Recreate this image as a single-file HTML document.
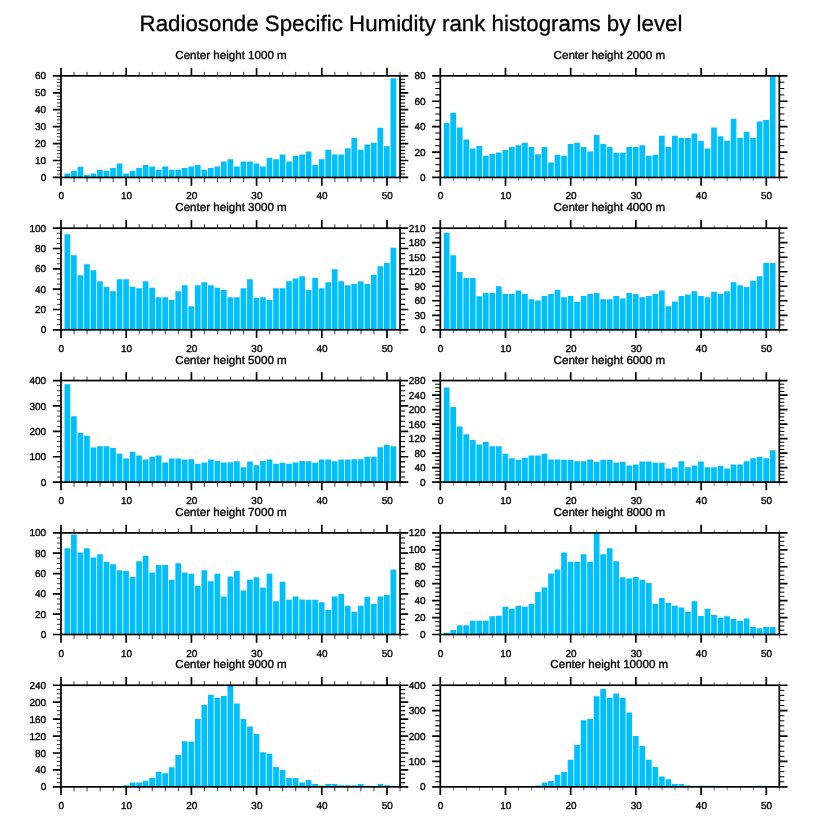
<!DOCTYPE html>
<html><head><meta charset="utf-8"><title>Radiosonde Specific Humidity rank histograms by level</title>
<style>html,body{margin:0;padding:0;background:#fff}svg{display:block;filter:blur(0.5px)}text{font-family:"Liberation Sans",sans-serif;fill:#000;stroke:#000;stroke-width:0.35px;text-rendering:geometricPrecision}</style></head><body>
<svg width="818" height="824" viewBox="0 0 818 824">
<rect width="818" height="824" fill="#fff"/>
<text x="411.0" y="31" font-size="22.3" text-anchor="middle" style="stroke-width:0.3px">Radiosonde Specific Humidity rank histograms by level</text>
<g>
<text x="231.02" y="59" font-size="11.6" text-anchor="middle">Center height 1000 m</text>
<path d="M64.52 177.45v-3.89h5.7v3.89zM71.04 177.45v-6.6h5.7v6.6zM77.56 177.45v-10.66h5.7v10.66zM84.08 177.45v-2.53h5.7v2.53zM90.6 177.45v-3.89h5.7v3.89zM97.12 177.45v-7.78h5.7v7.78zM103.64 177.45v-6.6h5.7v6.6zM110.16 177.45v-9.47h5.7v9.47zM116.68 177.45v-14.05h5.7v14.05zM123.2 177.45v-3.89h5.7v3.89zM129.72 177.45v-6.6h5.7v6.6zM136.24 177.45v-9.47h5.7v9.47zM142.76 177.45v-12.52h5.7v12.52zM149.28 177.45v-11h5.7v11zM155.8 177.45v-7.78h5.7v7.78zM162.32 177.45v-11h5.7v11zM168.84 177.45v-7.78h5.7v7.78zM175.36 177.45v-7.78h5.7v7.78zM181.88 177.45v-9.47h5.7v9.47zM188.4 177.45v-11h5.7v11zM194.92 177.45v-12.52h5.7v12.52zM201.44 177.45v-7.78h5.7v7.78zM207.96 177.45v-9.47h5.7v9.47zM214.48 177.45v-11h5.7v11zM221 177.45v-15.91h5.7v15.91zM227.52 177.45v-18.28h5.7v18.28zM234.04 177.45v-11h5.7v11zM240.56 177.45v-15.91h5.7v15.91zM247.08 177.45v-15.91h5.7v15.91zM253.6 177.45v-14.05h5.7v14.05zM260.12 177.45v-11h5.7v11zM266.64 177.45v-19.63h5.7v19.63zM273.16 177.45v-18.11h5.7v18.11zM279.68 177.45v-23.02h5.7v23.02zM286.2 177.45v-15.91h5.7v15.91zM292.72 177.45v-21.5h5.7v21.5zM299.24 177.45v-22.85h5.7v22.85zM305.76 177.45v-25.9h5.7v25.9zM312.28 177.45v-12.52h5.7v12.52zM318.8 177.45v-18.28h5.7v18.28zM325.32 177.45v-27.59h5.7v27.59zM331.84 177.45v-22.85h5.7v22.85zM338.36 177.45v-22.85h5.7v22.85zM344.88 177.45v-29.29h5.7v29.29zM351.4 177.45v-39.45h5.7v39.45zM357.92 177.45v-27.59h5.7v27.59zM364.44 177.45v-33.01h5.7v33.01zM370.96 177.45v-34.71h5.7v34.71zM377.48 177.45v-49.78h5.7v49.78zM384 177.45v-31.15h5.7v31.15zM390.52 177.45v-99.22h5.7v99.22z" fill="#00bfff"/>
<path d="M61 174.06h-4.1M61 170.68h-4.1M61 167.29h-4.1M61 163.9h-4.1M61 157.13h-4.1M61 153.74h-4.1M61 150.36h-4.1M61 146.97h-4.1M61 140.2h-4.1M61 136.81h-4.1M61 133.42h-4.1M61 130.04h-4.1M61 123.26h-4.1M61 119.88h-4.1M61 116.49h-4.1M61 113.1h-4.1M61 106.33h-4.1M61 102.94h-4.1M61 99.56h-4.1M61 96.17h-4.1M61 89.4h-4.1M61 86.01h-4.1M61 82.62h-4.1M61 79.24h-4.1" stroke="#000" stroke-width="0.75" fill="none"/>
<path d="M400.04 174.06h5M400.04 170.68h5M400.04 167.29h5M400.04 163.9h5M400.04 157.13h5M400.04 153.74h5M400.04 150.36h5M400.04 146.97h5M400.04 140.2h5M400.04 136.81h5M400.04 133.42h5M400.04 130.04h5M400.04 123.26h5M400.04 119.88h5M400.04 116.49h5M400.04 113.1h5M400.04 106.33h5M400.04 102.94h5M400.04 99.56h5M400.04 96.17h5M400.04 89.4h5M400.04 86.01h5M400.04 82.62h5M400.04 79.24h5" stroke="#000" stroke-width="1.1" fill="none"/>
<path d="M74.04 75.85v-4M74.04 177.45v4.5M87.08 75.85v-4M87.08 177.45v4.5M100.12 75.85v-4M100.12 177.45v4.5M113.16 75.85v-4M113.16 177.45v4.5M139.24 75.85v-4M139.24 177.45v4.5M152.28 75.85v-4M152.28 177.45v4.5M165.32 75.85v-4M165.32 177.45v4.5M178.36 75.85v-4M178.36 177.45v4.5M204.44 75.85v-4M204.44 177.45v4.5M217.48 75.85v-4M217.48 177.45v4.5M230.52 75.85v-4M230.52 177.45v4.5M243.56 75.85v-4M243.56 177.45v4.5M269.64 75.85v-4M269.64 177.45v4.5M282.68 75.85v-4M282.68 177.45v4.5M295.72 75.85v-4M295.72 177.45v4.5M308.76 75.85v-4M308.76 177.45v4.5M334.84 75.85v-4M334.84 177.45v4.5M347.88 75.85v-4M347.88 177.45v4.5M360.92 75.85v-4M360.92 177.45v4.5M373.96 75.85v-4M373.96 177.45v4.5M400.04 75.85v-4M400.04 177.45v4.5" stroke="#000" stroke-width="0.75" fill="none"/>
<path d="M61 75.85v-8.2M61 177.45v8.2M126.2 75.85v-8.2M126.2 177.45v8.2M191.4 75.85v-8.2M191.4 177.45v8.2M256.6 75.85v-8.2M256.6 177.45v8.2M321.8 75.85v-8.2M321.8 177.45v8.2M387 75.85v-8.2M387 177.45v8.2M61 177.45h-8.2M400.04 177.45h8.2M61 160.52h-8.2M400.04 160.52h8.2M61 143.58h-8.2M400.04 143.58h8.2M61 126.65h-8.2M400.04 126.65h8.2M61 109.72h-8.2M400.04 109.72h8.2M61 92.78h-8.2M400.04 92.78h8.2M61 75.85h-8.2M400.04 75.85h8.2" stroke="#000" stroke-width="1.7" fill="none"/>
<rect x="61" y="75.85" width="339.04" height="101.6" fill="none" stroke="#000" stroke-width="1.7"/>
<g font-size="10" text-anchor="end">
<text x="46.2" y="181">0</text>
<text x="46.2" y="164.07">10</text>
<text x="46.2" y="147.13">20</text>
<text x="46.2" y="130.2">30</text>
<text x="46.2" y="113.27">40</text>
<text x="46.2" y="96.33">50</text>
<text x="46.2" y="79.4">60</text>
</g>
<g font-size="10" text-anchor="middle">
<text x="61.3" y="199.45">0</text>
<text x="126.5" y="199.45">10</text>
<text x="191.7" y="199.45">20</text>
<text x="256.9" y="199.45">30</text>
<text x="322.1" y="199.45">40</text>
<text x="387.3" y="199.45">50</text>
</g>
</g>
<g>
<text x="609.32" y="59" font-size="11.6" text-anchor="middle">Center height 2000 m</text>
<path d="M443.82 177.45v-54.47h5.7v54.47zM450.34 177.45v-64.76h5.7v64.76zM456.86 177.45v-49.9h5.7v49.9zM463.38 177.45v-37.84h5.7v37.84zM469.9 177.45v-29.07h5.7v29.07zM476.42 177.45v-31.49h5.7v31.49zM482.94 177.45v-21.58h5.7v21.58zM489.46 177.45v-23.49h5.7v23.49zM495.98 177.45v-24.88h5.7v24.88zM502.5 177.45v-27.42h5.7v27.42zM509.02 177.45v-30.34h5.7v30.34zM515.54 177.45v-32.25h5.7v32.25zM522.06 177.45v-34.66h5.7v34.66zM528.58 177.45v-30.34h5.7v30.34zM535.1 177.45v-23.11h5.7v23.11zM541.62 177.45v-30.34h5.7v30.34zM548.14 177.45v-14.98h5.7v14.98zM554.66 177.45v-22.6h5.7v22.6zM561.18 177.45v-21.58h5.7v21.58zM567.7 177.45v-33.39h5.7v33.39zM574.22 177.45v-34.66h5.7v34.66zM580.74 177.45v-30.34h5.7v30.34zM587.26 177.45v-25.9h5.7v25.9zM593.78 177.45v-42.41h5.7v42.41zM600.3 177.45v-33.39h5.7v33.39zM606.82 177.45v-30.34h5.7v30.34zM613.34 177.45v-24.63h5.7v24.63zM619.86 177.45v-24.63h5.7v24.63zM626.38 177.45v-30.34h5.7v30.34zM632.9 177.45v-30.34h5.7v30.34zM639.42 177.45v-32.25h5.7v32.25zM645.94 177.45v-21.58h5.7v21.58zM652.46 177.45v-22.6h5.7v22.6zM658.98 177.45v-41.77h5.7v41.77zM665.5 177.45v-30.34h5.7v30.34zM672.02 177.45v-41.77h5.7v41.77zM678.54 177.45v-39.49h5.7v39.49zM685.06 177.45v-39.49h5.7v39.49zM691.58 177.45v-43.93h5.7v43.93zM698.1 177.45v-36.7h5.7v36.7zM704.62 177.45v-29.07h5.7v29.07zM711.14 177.45v-49.9h5.7v49.9zM717.66 177.45v-41.27h5.7v41.27zM724.18 177.45v-36.7h5.7v36.7zM730.7 177.45v-58.79h5.7v58.79zM737.22 177.45v-39.49h5.7v39.49zM743.74 177.45v-45.46h5.7v45.46zM750.26 177.45v-39.49h5.7v39.49zM756.78 177.45v-56h5.7v56zM763.3 177.45v-57.52h5.7v57.52zM769.82 177.45v-101.6h5.7v101.6z" fill="#00bfff"/>
<path d="M440.3 171.1h-5M440.3 164.75h-5M440.3 158.4h-5M440.3 145.7h-5M440.3 139.35h-5M440.3 133h-5M440.3 120.3h-5M440.3 113.95h-5M440.3 107.6h-5M440.3 94.9h-5M440.3 88.55h-5M440.3 82.2h-5" stroke="#000" stroke-width="1.1" fill="none"/>
<path d="M779.34 171.1h5M779.34 164.75h5M779.34 158.4h5M779.34 145.7h5M779.34 139.35h5M779.34 133h5M779.34 120.3h5M779.34 113.95h5M779.34 107.6h5M779.34 94.9h5M779.34 88.55h5M779.34 82.2h5" stroke="#000" stroke-width="1.0" fill="none"/>
<path d="M453.34 75.85v-3.2M453.34 177.45v3.7M466.38 75.85v-3.2M466.38 177.45v3.7M479.42 75.85v-3.2M479.42 177.45v3.7M492.46 75.85v-3.2M492.46 177.45v3.7M518.54 75.85v-3.2M518.54 177.45v3.7M531.58 75.85v-3.2M531.58 177.45v3.7M544.62 75.85v-3.2M544.62 177.45v3.7M557.66 75.85v-3.2M557.66 177.45v3.7M583.74 75.85v-3.2M583.74 177.45v3.7M596.78 75.85v-3.2M596.78 177.45v3.7M609.82 75.85v-3.2M609.82 177.45v3.7M622.86 75.85v-3.2M622.86 177.45v3.7M648.94 75.85v-3.2M648.94 177.45v3.7M661.98 75.85v-3.2M661.98 177.45v3.7M675.02 75.85v-3.2M675.02 177.45v3.7M688.06 75.85v-3.2M688.06 177.45v3.7M714.14 75.85v-3.2M714.14 177.45v3.7M727.18 75.85v-3.2M727.18 177.45v3.7M740.22 75.85v-3.2M740.22 177.45v3.7M753.26 75.85v-3.2M753.26 177.45v3.7M779.34 75.85v-3.2M779.34 177.45v3.7" stroke="#444" stroke-width="0.7" fill="none"/>
<path d="M440.3 75.85v-8.2M440.3 177.45v8.2M505.5 75.85v-8.2M505.5 177.45v8.2M570.7 75.85v-8.2M570.7 177.45v8.2M635.9 75.85v-8.2M635.9 177.45v8.2M701.1 75.85v-8.2M701.1 177.45v8.2M766.3 75.85v-8.2M766.3 177.45v8.2M440.3 177.45h-8.2M779.34 177.45h8.2M440.3 152.05h-8.2M779.34 152.05h8.2M440.3 126.65h-8.2M779.34 126.65h8.2M440.3 101.25h-8.2M779.34 101.25h8.2M440.3 75.85h-8.2M779.34 75.85h8.2" stroke="#000" stroke-width="1.7" fill="none"/>
<rect x="440.3" y="75.85" width="339.04" height="101.6" fill="none" stroke="#000" stroke-width="1.7"/>
<g font-size="10" text-anchor="end">
<text x="425.5" y="181">0</text>
<text x="425.5" y="155.6">20</text>
<text x="425.5" y="130.2">40</text>
<text x="425.5" y="104.8">60</text>
<text x="425.5" y="79.4">80</text>
</g>
<g font-size="10" text-anchor="middle">
<text x="440.6" y="199.45">0</text>
<text x="505.8" y="199.45">10</text>
<text x="571" y="199.45">20</text>
<text x="636.2" y="199.45">30</text>
<text x="701.4" y="199.45">40</text>
<text x="766.6" y="199.45">50</text>
</g>
</g>
<g>
<text x="231.02" y="211.35" font-size="11.6" text-anchor="middle">Center height 3000 m</text>
<path d="M64.52 329.8v-95.5h5.7v95.5zM71.04 329.8v-74.57h5.7v74.57zM77.56 329.8v-54.45h5.7v54.45zM84.08 329.8v-65.52h5.7v65.52zM90.6 329.8v-59.53h5.7v59.53zM97.12 329.8v-48.56h5.7v48.56zM103.64 329.8v-43.07h5.7v43.07zM110.16 329.8v-38.6h5.7v38.6zM116.68 329.8v-50.49h5.7v50.49zM123.2 329.8v-50.49h5.7v50.49zM129.72 329.8v-43.07h5.7v43.07zM136.24 329.8v-41.44h5.7v41.44zM142.76 329.8v-48.56h5.7v48.56zM149.28 329.8v-41.95h5.7v41.95zM155.8 329.8v-32.5h5.7v32.5zM162.32 329.8v-32.5h5.7v32.5zM168.84 329.8v-29.86h5.7v29.86zM175.36 329.8v-38.6h5.7v38.6zM181.88 329.8v-44.59h5.7v44.59zM188.4 329.8v-23.66h5.7v23.66zM194.92 329.8v-44.59h5.7v44.59zM201.44 329.8v-47.44h5.7v47.44zM207.96 329.8v-44.59h5.7v44.59zM214.48 329.8v-41.95h5.7v41.95zM221 329.8v-39.72h5.7v39.72zM227.52 329.8v-32.5h5.7v32.5zM234.04 329.8v-32.5h5.7v32.5zM240.56 329.8v-41.44h5.7v41.44zM247.08 329.8v-50.49h5.7v50.49zM253.6 329.8v-32h5.7v32zM260.12 329.8v-32.5h5.7v32.5zM266.64 329.8v-29.86h5.7v29.86zM273.16 329.8v-41.44h5.7v41.44zM279.68 329.8v-41.44h5.7v41.44zM286.2 329.8v-48.56h5.7v48.56zM292.72 329.8v-51.4h5.7v51.4zM299.24 329.8v-53.64h5.7v53.64zM305.76 329.8v-39.72h5.7v39.72zM312.28 329.8v-51.81h5.7v51.81zM318.8 329.8v-41.44h5.7v41.44zM325.32 329.8v-47.44h5.7v47.44zM331.84 329.8v-60.65h5.7v60.65zM338.36 329.8v-48.56h5.7v48.56zM344.88 329.8v-44.59h5.7v44.59zM351.4 329.8v-45.71h5.7v45.71zM357.92 329.8v-48.56h5.7v48.56zM364.44 329.8v-45.71h5.7v45.71zM370.96 329.8v-54.96h5.7v54.96zM377.48 329.8v-63.49h5.7v63.49zM384 329.8v-66.84h5.7v66.84zM390.52 329.8v-82.08h5.7v82.08z" fill="#00bfff"/>
<path d="M61 324.72h-4.1M61 319.64h-4.1M61 314.56h-4.1M61 304.4h-4.1M61 299.32h-4.1M61 294.24h-4.1M61 284.08h-4.1M61 279h-4.1M61 273.92h-4.1M61 263.76h-4.1M61 258.68h-4.1M61 253.6h-4.1M61 243.44h-4.1M61 238.36h-4.1M61 233.28h-4.1" stroke="#000" stroke-width="0.75" fill="none"/>
<path d="M400.04 324.72h5M400.04 319.64h5M400.04 314.56h5M400.04 304.4h5M400.04 299.32h5M400.04 294.24h5M400.04 284.08h5M400.04 279h5M400.04 273.92h5M400.04 263.76h5M400.04 258.68h5M400.04 253.6h5M400.04 243.44h5M400.04 238.36h5M400.04 233.28h5" stroke="#000" stroke-width="1.1" fill="none"/>
<path d="M74.04 228.2v-4M74.04 329.8v4.5M87.08 228.2v-4M87.08 329.8v4.5M100.12 228.2v-4M100.12 329.8v4.5M113.16 228.2v-4M113.16 329.8v4.5M139.24 228.2v-4M139.24 329.8v4.5M152.28 228.2v-4M152.28 329.8v4.5M165.32 228.2v-4M165.32 329.8v4.5M178.36 228.2v-4M178.36 329.8v4.5M204.44 228.2v-4M204.44 329.8v4.5M217.48 228.2v-4M217.48 329.8v4.5M230.52 228.2v-4M230.52 329.8v4.5M243.56 228.2v-4M243.56 329.8v4.5M269.64 228.2v-4M269.64 329.8v4.5M282.68 228.2v-4M282.68 329.8v4.5M295.72 228.2v-4M295.72 329.8v4.5M308.76 228.2v-4M308.76 329.8v4.5M334.84 228.2v-4M334.84 329.8v4.5M347.88 228.2v-4M347.88 329.8v4.5M360.92 228.2v-4M360.92 329.8v4.5M373.96 228.2v-4M373.96 329.8v4.5M400.04 228.2v-4M400.04 329.8v4.5" stroke="#000" stroke-width="0.75" fill="none"/>
<path d="M61 228.2v-8.2M61 329.8v8.2M126.2 228.2v-8.2M126.2 329.8v8.2M191.4 228.2v-8.2M191.4 329.8v8.2M256.6 228.2v-8.2M256.6 329.8v8.2M321.8 228.2v-8.2M321.8 329.8v8.2M387 228.2v-8.2M387 329.8v8.2M61 329.8h-8.2M400.04 329.8h8.2M61 309.48h-8.2M400.04 309.48h8.2M61 289.16h-8.2M400.04 289.16h8.2M61 268.84h-8.2M400.04 268.84h8.2M61 248.52h-8.2M400.04 248.52h8.2M61 228.2h-8.2M400.04 228.2h8.2" stroke="#000" stroke-width="1.7" fill="none"/>
<rect x="61" y="228.2" width="339.04" height="101.6" fill="none" stroke="#000" stroke-width="1.7"/>
<g font-size="10" text-anchor="end">
<text x="46.2" y="333.35">0</text>
<text x="46.2" y="313.03">20</text>
<text x="46.2" y="292.71">40</text>
<text x="46.2" y="272.39">60</text>
<text x="46.2" y="252.07">80</text>
<text x="46.2" y="231.75">100</text>
</g>
<g font-size="10" text-anchor="middle">
<text x="61.3" y="351.8">0</text>
<text x="126.5" y="351.8">10</text>
<text x="191.7" y="351.8">20</text>
<text x="256.9" y="351.8">30</text>
<text x="322.1" y="351.8">40</text>
<text x="387.3" y="351.8">50</text>
</g>
</g>
<g>
<text x="609.32" y="211.35" font-size="11.6" text-anchor="middle">Center height 4000 m</text>
<path d="M443.82 329.8v-97.02h5.7v97.02zM450.34 329.8v-74.52h5.7v74.52zM456.86 329.8v-57.78h5.7v57.78zM463.38 329.8v-51.78h5.7v51.78zM469.9 329.8v-51.78h5.7v51.78zM476.42 329.8v-33.54h5.7v33.54zM482.94 329.8v-36.88h5.7v36.88zM489.46 329.8v-36.88h5.7v36.88zM495.98 329.8v-43.46h5.7v43.46zM502.5 329.8v-35.77h5.7v35.77zM509.02 329.8v-35.77h5.7v35.77zM515.54 329.8v-39.3h5.7v39.3zM522.06 329.8v-35.77h5.7v35.77zM528.58 329.8v-30.5h5.7v30.5zM535.1 329.8v-29.38h5.7v29.38zM541.62 329.8v-33.79h5.7v33.79zM548.14 329.8v-35.77h5.7v35.77zM554.66 329.8v-40.17h5.7v40.17zM561.18 329.8v-32.67h5.7v32.67zM567.7 329.8v-33.79h5.7v33.79zM574.22 329.8v-28.03h5.7v28.03zM580.74 329.8v-33.79h5.7v33.79zM587.26 329.8v-35.77h5.7v35.77zM593.78 329.8v-36.88h5.7v36.88zM600.3 329.8v-30.5h5.7v30.5zM606.82 329.8v-30.5h5.7v30.5zM613.34 329.8v-33.79h5.7v33.79zM619.86 329.8v-31.37h5.7v31.37zM626.38 329.8v-36.88h5.7v36.88zM632.9 329.8v-35.77h5.7v35.77zM639.42 329.8v-32.43h5.7v32.43zM645.94 329.8v-33.79h5.7v33.79zM652.46 329.8v-35.77h5.7v35.77zM658.98 329.8v-39.3h5.7v39.3zM665.5 329.8v-23.63h5.7v23.63zM672.02 329.8v-28.27h5.7v28.27zM678.54 329.8v-33.79h5.7v33.79zM685.06 329.8v-35.33h5.7v35.33zM691.58 329.8v-38.43h5.7v38.43zM698.1 329.8v-33.79h5.7v33.79zM704.62 329.8v-32.43h5.7v32.43zM711.14 329.8v-37.95h5.7v37.95zM717.66 329.8v-35.77h5.7v35.77zM724.18 329.8v-38.43h5.7v38.43zM730.7 329.8v-47.43h5.7v47.43zM737.22 329.8v-44.58h5.7v44.58zM743.74 329.8v-42.83h5.7v42.83zM750.26 329.8v-48.98h5.7v48.98zM756.78 329.8v-53.62h5.7v53.62zM763.3 329.8v-66.83h5.7v66.83zM769.82 329.8v-66.83h5.7v66.83z" fill="#00bfff"/>
<path d="M440.3 324.96h-5M440.3 320.12h-5M440.3 310.45h-5M440.3 305.61h-5M440.3 295.93h-5M440.3 291.1h-5M440.3 281.42h-5M440.3 276.58h-5M440.3 266.9h-5M440.3 262.07h-5M440.3 252.39h-5M440.3 247.55h-5M440.3 237.88h-5M440.3 233.04h-5" stroke="#000" stroke-width="1.1" fill="none"/>
<path d="M779.34 324.96h5M779.34 320.12h5M779.34 310.45h5M779.34 305.61h5M779.34 295.93h5M779.34 291.1h5M779.34 281.42h5M779.34 276.58h5M779.34 266.9h5M779.34 262.07h5M779.34 252.39h5M779.34 247.55h5M779.34 237.88h5M779.34 233.04h5" stroke="#000" stroke-width="1.0" fill="none"/>
<path d="M453.34 228.2v-3.2M453.34 329.8v3.7M466.38 228.2v-3.2M466.38 329.8v3.7M479.42 228.2v-3.2M479.42 329.8v3.7M492.46 228.2v-3.2M492.46 329.8v3.7M518.54 228.2v-3.2M518.54 329.8v3.7M531.58 228.2v-3.2M531.58 329.8v3.7M544.62 228.2v-3.2M544.62 329.8v3.7M557.66 228.2v-3.2M557.66 329.8v3.7M583.74 228.2v-3.2M583.74 329.8v3.7M596.78 228.2v-3.2M596.78 329.8v3.7M609.82 228.2v-3.2M609.82 329.8v3.7M622.86 228.2v-3.2M622.86 329.8v3.7M648.94 228.2v-3.2M648.94 329.8v3.7M661.98 228.2v-3.2M661.98 329.8v3.7M675.02 228.2v-3.2M675.02 329.8v3.7M688.06 228.2v-3.2M688.06 329.8v3.7M714.14 228.2v-3.2M714.14 329.8v3.7M727.18 228.2v-3.2M727.18 329.8v3.7M740.22 228.2v-3.2M740.22 329.8v3.7M753.26 228.2v-3.2M753.26 329.8v3.7M779.34 228.2v-3.2M779.34 329.8v3.7" stroke="#444" stroke-width="0.7" fill="none"/>
<path d="M440.3 228.2v-8.2M440.3 329.8v8.2M505.5 228.2v-8.2M505.5 329.8v8.2M570.7 228.2v-8.2M570.7 329.8v8.2M635.9 228.2v-8.2M635.9 329.8v8.2M701.1 228.2v-8.2M701.1 329.8v8.2M766.3 228.2v-8.2M766.3 329.8v8.2M440.3 329.8h-8.2M779.34 329.8h8.2M440.3 315.29h-8.2M779.34 315.29h8.2M440.3 300.77h-8.2M779.34 300.77h8.2M440.3 286.26h-8.2M779.34 286.26h8.2M440.3 271.74h-8.2M779.34 271.74h8.2M440.3 257.23h-8.2M779.34 257.23h8.2M440.3 242.71h-8.2M779.34 242.71h8.2M440.3 228.2h-8.2M779.34 228.2h8.2" stroke="#000" stroke-width="1.7" fill="none"/>
<rect x="440.3" y="228.2" width="339.04" height="101.6" fill="none" stroke="#000" stroke-width="1.7"/>
<g font-size="10" text-anchor="end">
<text x="425.5" y="333.35">0</text>
<text x="425.5" y="318.84">30</text>
<text x="425.5" y="304.32">60</text>
<text x="425.5" y="289.81">90</text>
<text x="425.5" y="275.29">120</text>
<text x="425.5" y="260.78">150</text>
<text x="425.5" y="246.26">180</text>
<text x="425.5" y="231.75">210</text>
</g>
<g font-size="10" text-anchor="middle">
<text x="440.6" y="351.8">0</text>
<text x="505.8" y="351.8">10</text>
<text x="571" y="351.8">20</text>
<text x="636.2" y="351.8">30</text>
<text x="701.4" y="351.8">40</text>
<text x="766.6" y="351.8">50</text>
</g>
</g>
<g>
<text x="231.02" y="363.7" font-size="11.6" text-anchor="middle">Center height 5000 m</text>
<path d="M64.52 482.15v-97.78h5.7v97.78zM71.04 482.15v-65.78h5.7v65.78zM77.56 482.15v-49.27h5.7v49.27zM84.08 482.15v-46.47h5.7v46.47zM90.6 482.15v-34.54h5.7v34.54zM97.12 482.15v-35.81h5.7v35.81zM103.64 482.15v-35.81h5.7v35.81zM110.16 482.15v-34.03h5.7v34.03zM116.68 482.15v-28.44h5.7v28.44zM123.2 482.15v-23.61h5.7v23.61zM129.72 482.15v-30.47h5.7v30.47zM136.24 482.15v-26.66h5.7v26.66zM142.76 482.15v-22.6h5.7v22.6zM149.28 482.15v-25.39h5.7v25.39zM155.8 482.15v-26.66h5.7v26.66zM162.32 482.15v-19.55h5.7v19.55zM168.84 482.15v-23.61h5.7v23.61zM175.36 482.15v-23.61h5.7v23.61zM181.88 482.15v-22.6h5.7v22.6zM188.4 482.15v-22.85h5.7v22.85zM194.92 482.15v-18.28h5.7v18.28zM201.44 482.15v-19.55h5.7v19.55zM207.96 482.15v-22.6h5.7v22.6zM214.48 482.15v-21.07h5.7v21.07zM221 482.15v-19.55h5.7v19.55zM227.52 482.15v-19.93h5.7v19.93zM234.04 482.15v-20.82h5.7v20.82zM240.56 482.15v-14.85h5.7v14.85zM247.08 482.15v-20.57h5.7v20.57zM253.6 482.15v-17.01h5.7v17.01zM260.12 482.15v-21.07h5.7v21.07zM266.64 482.15v-22.6h5.7v22.6zM273.16 482.15v-18.28h5.7v18.28zM279.68 482.15v-19.3h5.7v19.3zM286.2 482.15v-18.28h5.7v18.28zM292.72 482.15v-19.55h5.7v19.55zM299.24 482.15v-21.07h5.7v21.07zM305.76 482.15v-20.82h5.7v20.82zM312.28 482.15v-19.3h5.7v19.3zM318.8 482.15v-22.6h5.7v22.6zM325.32 482.15v-22.6h5.7v22.6zM331.84 482.15v-20.82h5.7v20.82zM338.36 482.15v-22.6h5.7v22.6zM344.88 482.15v-22.6h5.7v22.6zM351.4 482.15v-22.85h5.7v22.85zM357.92 482.15v-22.85h5.7v22.85zM364.44 482.15v-25.39h5.7v25.39zM370.96 482.15v-25.39h5.7v25.39zM377.48 482.15v-34.79h5.7v34.79zM384 482.15v-37.08h5.7v37.08zM390.52 482.15v-35.81h5.7v35.81z" fill="#00bfff"/>
<path d="M61 477.07h-4.1M61 471.99h-4.1M61 466.91h-4.1M61 461.83h-4.1M61 451.67h-4.1M61 446.59h-4.1M61 441.51h-4.1M61 436.43h-4.1M61 426.27h-4.1M61 421.19h-4.1M61 416.11h-4.1M61 411.03h-4.1M61 400.87h-4.1M61 395.79h-4.1M61 390.71h-4.1M61 385.63h-4.1" stroke="#000" stroke-width="0.75" fill="none"/>
<path d="M400.04 477.07h5M400.04 471.99h5M400.04 466.91h5M400.04 461.83h5M400.04 451.67h5M400.04 446.59h5M400.04 441.51h5M400.04 436.43h5M400.04 426.27h5M400.04 421.19h5M400.04 416.11h5M400.04 411.03h5M400.04 400.87h5M400.04 395.79h5M400.04 390.71h5M400.04 385.63h5" stroke="#000" stroke-width="1.1" fill="none"/>
<path d="M74.04 380.55v-4M74.04 482.15v4.5M87.08 380.55v-4M87.08 482.15v4.5M100.12 380.55v-4M100.12 482.15v4.5M113.16 380.55v-4M113.16 482.15v4.5M139.24 380.55v-4M139.24 482.15v4.5M152.28 380.55v-4M152.28 482.15v4.5M165.32 380.55v-4M165.32 482.15v4.5M178.36 380.55v-4M178.36 482.15v4.5M204.44 380.55v-4M204.44 482.15v4.5M217.48 380.55v-4M217.48 482.15v4.5M230.52 380.55v-4M230.52 482.15v4.5M243.56 380.55v-4M243.56 482.15v4.5M269.64 380.55v-4M269.64 482.15v4.5M282.68 380.55v-4M282.68 482.15v4.5M295.72 380.55v-4M295.72 482.15v4.5M308.76 380.55v-4M308.76 482.15v4.5M334.84 380.55v-4M334.84 482.15v4.5M347.88 380.55v-4M347.88 482.15v4.5M360.92 380.55v-4M360.92 482.15v4.5M373.96 380.55v-4M373.96 482.15v4.5M400.04 380.55v-4M400.04 482.15v4.5" stroke="#000" stroke-width="0.75" fill="none"/>
<path d="M61 380.55v-8.2M61 482.15v8.2M126.2 380.55v-8.2M126.2 482.15v8.2M191.4 380.55v-8.2M191.4 482.15v8.2M256.6 380.55v-8.2M256.6 482.15v8.2M321.8 380.55v-8.2M321.8 482.15v8.2M387 380.55v-8.2M387 482.15v8.2M61 482.15h-8.2M400.04 482.15h8.2M61 456.75h-8.2M400.04 456.75h8.2M61 431.35h-8.2M400.04 431.35h8.2M61 405.95h-8.2M400.04 405.95h8.2M61 380.55h-8.2M400.04 380.55h8.2" stroke="#000" stroke-width="1.7" fill="none"/>
<rect x="61" y="380.55" width="339.04" height="101.6" fill="none" stroke="#000" stroke-width="1.7"/>
<g font-size="10" text-anchor="end">
<text x="46.2" y="485.7">0</text>
<text x="46.2" y="460.3">100</text>
<text x="46.2" y="434.9">200</text>
<text x="46.2" y="409.5">300</text>
<text x="46.2" y="384.1">400</text>
</g>
<g font-size="10" text-anchor="middle">
<text x="61.3" y="504.15">0</text>
<text x="126.5" y="504.15">10</text>
<text x="191.7" y="504.15">20</text>
<text x="256.9" y="504.15">30</text>
<text x="322.1" y="504.15">40</text>
<text x="387.3" y="504.15">50</text>
</g>
</g>
<g>
<text x="609.32" y="363.7" font-size="11.6" text-anchor="middle">Center height 6000 m</text>
<path d="M443.82 482.15v-94.58h5.7v94.58zM450.34 482.15v-75.18h5.7v75.18zM456.86 482.15v-55.67h5.7v55.67zM463.38 482.15v-47.95h5.7v47.95zM469.9 482.15v-42.05h5.7v42.05zM476.42 482.15v-37.58h5.7v37.58zM482.94 482.15v-40.43h5.7v40.43zM489.46 482.15v-35.86h5.7v35.86zM495.98 482.15v-35.86h5.7v35.86zM502.5 482.15v-28.34h5.7v28.34zM509.02 482.15v-23.87h5.7v23.87zM515.54 482.15v-22.34h5.7v22.34zM522.06 482.15v-24.38h5.7v24.38zM528.58 482.15v-26.61h5.7v26.61zM535.1 482.15v-26.61h5.7v26.61zM541.62 482.15v-28.34h5.7v28.34zM548.14 482.15v-22.55h5.7v22.55zM554.66 482.15v-22.55h5.7v22.55zM561.18 482.15v-22.34h5.7v22.34zM567.7 482.15v-22.34h5.7v22.34zM574.22 482.15v-20.82h5.7v20.82zM580.74 482.15v-20.82h5.7v20.82zM587.26 482.15v-22.55h5.7v22.55zM593.78 482.15v-20.41h5.7v20.41zM600.3 482.15v-22.34h5.7v22.34zM606.82 482.15v-22.34h5.7v22.34zM613.34 482.15v-19.3h5.7v19.3zM619.86 482.15v-20.41h5.7v20.41zM626.38 482.15v-16.65h5.7v16.65zM632.9 482.15v-17.77h5.7v17.77zM639.42 482.15v-20.62h5.7v20.62zM645.94 482.15v-20.62h5.7v20.62zM652.46 482.15v-19.5h5.7v19.5zM658.98 482.15v-19.5h5.7v19.5zM665.5 482.15v-13.71h5.7v13.71zM672.02 482.15v-14.83h5.7v14.83zM678.54 482.15v-21.02h5.7v21.02zM685.06 482.15v-14.83h5.7v14.83zM691.58 482.15v-16.65h5.7v16.65zM698.1 482.15v-20.62h5.7v20.62zM704.62 482.15v-14.83h5.7v14.83zM711.14 482.15v-14.83h5.7v14.83zM717.66 482.15v-16.45h5.7v16.45zM724.18 482.15v-13.71h5.7v13.71zM730.7 482.15v-17.77h5.7v17.77zM737.22 482.15v-17.77h5.7v17.77zM743.74 482.15v-20.82h5.7v20.82zM750.26 482.15v-23.87h5.7v23.87zM756.78 482.15v-25.49h5.7v25.49zM763.3 482.15v-23.87h5.7v23.87zM769.82 482.15v-31.89h5.7v31.89z" fill="#00bfff"/>
<path d="M440.3 478.52h-5M440.3 474.89h-5M440.3 471.26h-5M440.3 464.01h-5M440.3 460.38h-5M440.3 456.75h-5M440.3 449.49h-5M440.3 445.86h-5M440.3 442.24h-5M440.3 434.98h-5M440.3 431.35h-5M440.3 427.72h-5M440.3 420.46h-5M440.3 416.84h-5M440.3 413.21h-5M440.3 405.95h-5M440.3 402.32h-5M440.3 398.69h-5M440.3 391.44h-5M440.3 387.81h-5M440.3 384.18h-5" stroke="#000" stroke-width="1.1" fill="none"/>
<path d="M779.34 478.52h5M779.34 474.89h5M779.34 471.26h5M779.34 464.01h5M779.34 460.38h5M779.34 456.75h5M779.34 449.49h5M779.34 445.86h5M779.34 442.24h5M779.34 434.98h5M779.34 431.35h5M779.34 427.72h5M779.34 420.46h5M779.34 416.84h5M779.34 413.21h5M779.34 405.95h5M779.34 402.32h5M779.34 398.69h5M779.34 391.44h5M779.34 387.81h5M779.34 384.18h5" stroke="#000" stroke-width="1.0" fill="none"/>
<path d="M453.34 380.55v-3.2M453.34 482.15v3.7M466.38 380.55v-3.2M466.38 482.15v3.7M479.42 380.55v-3.2M479.42 482.15v3.7M492.46 380.55v-3.2M492.46 482.15v3.7M518.54 380.55v-3.2M518.54 482.15v3.7M531.58 380.55v-3.2M531.58 482.15v3.7M544.62 380.55v-3.2M544.62 482.15v3.7M557.66 380.55v-3.2M557.66 482.15v3.7M583.74 380.55v-3.2M583.74 482.15v3.7M596.78 380.55v-3.2M596.78 482.15v3.7M609.82 380.55v-3.2M609.82 482.15v3.7M622.86 380.55v-3.2M622.86 482.15v3.7M648.94 380.55v-3.2M648.94 482.15v3.7M661.98 380.55v-3.2M661.98 482.15v3.7M675.02 380.55v-3.2M675.02 482.15v3.7M688.06 380.55v-3.2M688.06 482.15v3.7M714.14 380.55v-3.2M714.14 482.15v3.7M727.18 380.55v-3.2M727.18 482.15v3.7M740.22 380.55v-3.2M740.22 482.15v3.7M753.26 380.55v-3.2M753.26 482.15v3.7M779.34 380.55v-3.2M779.34 482.15v3.7" stroke="#444" stroke-width="0.7" fill="none"/>
<path d="M440.3 380.55v-8.2M440.3 482.15v8.2M505.5 380.55v-8.2M505.5 482.15v8.2M570.7 380.55v-8.2M570.7 482.15v8.2M635.9 380.55v-8.2M635.9 482.15v8.2M701.1 380.55v-8.2M701.1 482.15v8.2M766.3 380.55v-8.2M766.3 482.15v8.2M440.3 482.15h-8.2M779.34 482.15h8.2M440.3 467.64h-8.2M779.34 467.64h8.2M440.3 453.12h-8.2M779.34 453.12h8.2M440.3 438.61h-8.2M779.34 438.61h8.2M440.3 424.09h-8.2M779.34 424.09h8.2M440.3 409.58h-8.2M779.34 409.58h8.2M440.3 395.06h-8.2M779.34 395.06h8.2M440.3 380.55h-8.2M779.34 380.55h8.2" stroke="#000" stroke-width="1.7" fill="none"/>
<rect x="440.3" y="380.55" width="339.04" height="101.6" fill="none" stroke="#000" stroke-width="1.7"/>
<g font-size="10" text-anchor="end">
<text x="425.5" y="485.7">0</text>
<text x="425.5" y="471.19">40</text>
<text x="425.5" y="456.67">80</text>
<text x="425.5" y="442.16">120</text>
<text x="425.5" y="427.64">160</text>
<text x="425.5" y="413.13">200</text>
<text x="425.5" y="398.61">240</text>
<text x="425.5" y="384.1">280</text>
</g>
<g font-size="10" text-anchor="middle">
<text x="440.6" y="504.15">0</text>
<text x="505.8" y="504.15">10</text>
<text x="571" y="504.15">20</text>
<text x="636.2" y="504.15">30</text>
<text x="701.4" y="504.15">40</text>
<text x="766.6" y="504.15">50</text>
</g>
</g>
<g>
<text x="231.02" y="516.05" font-size="11.6" text-anchor="middle">Center height 7000 m</text>
<path d="M64.52 634.5v-86.35h5.7v86.35zM71.04 634.5v-100.07h5.7v100.07zM77.56 634.5v-81.98h5.7v81.98zM84.08 634.5v-86.35h5.7v86.35zM90.6 634.5v-77.11h5.7v77.11zM97.12 634.5v-80.15h5.7v80.15zM103.64 634.5v-72.64h5.7v72.64zM110.16 634.5v-70.2h5.7v70.2zM116.68 634.5v-64.2h5.7v64.2zM123.2 634.5v-63.59h5.7v63.59zM129.72 634.5v-57.6h5.7v57.6zM136.24 634.5v-73.14h5.7v73.14zM142.76 634.5v-78.63h5.7v78.63zM149.28 634.5v-62.07h5.7v62.07zM155.8 634.5v-69.59h5.7v69.59zM162.32 634.5v-69.59h5.7v69.59zM168.84 634.5v-54.75h5.7v54.75zM175.36 634.5v-71.32h5.7v71.32zM181.88 634.5v-62.07h5.7v62.07zM188.4 634.5v-60.75h5.7v60.75zM194.92 634.5v-48.76h5.7v48.76zM201.44 634.5v-64.2h5.7v64.2zM207.96 634.5v-53.23h5.7v53.23zM214.48 634.5v-60.75h5.7v60.75zM221 634.5v-38.09h5.7v38.09zM227.52 634.5v-58.01h5.7v58.01zM234.04 634.5v-63.59h5.7v63.59zM240.56 634.5v-43.88h5.7v43.88zM247.08 634.5v-54.75h5.7v54.75zM253.6 634.5v-57.19h5.7v57.19zM260.12 634.5v-47.03h5.7v47.03zM266.64 634.5v-60.95h5.7v60.95zM273.16 634.5v-33.22h5.7v33.22zM279.68 634.5v-52.72h5.7v52.72zM286.2 634.5v-34.84h5.7v34.84zM292.72 634.5v-38.09h5.7v38.09zM299.24 634.5v-35.04h5.7v35.04zM305.76 634.5v-34.84h5.7v34.84zM312.28 634.5v-34.84h5.7v34.84zM318.8 634.5v-32.2h5.7v32.2zM325.32 634.5v-24.38h5.7v24.38zM331.84 634.5v-38.09h5.7v38.09zM338.36 634.5v-40.53h5.7v40.53zM344.88 634.5v-28.85h5.7v28.85zM351.4 634.5v-22.65h5.7v22.65zM357.92 634.5v-28.85h5.7v28.85zM364.44 634.5v-37.69h5.7v37.69zM370.96 634.5v-30.57h5.7v30.57zM377.48 634.5v-38.09h5.7v38.09zM384 634.5v-39.41h5.7v39.41zM390.52 634.5v-65.12h5.7v65.12z" fill="#00bfff"/>
<path d="M61 629.42h-4.1M61 624.34h-4.1M61 619.26h-4.1M61 609.1h-4.1M61 604.02h-4.1M61 598.94h-4.1M61 588.78h-4.1M61 583.7h-4.1M61 578.62h-4.1M61 568.46h-4.1M61 563.38h-4.1M61 558.3h-4.1M61 548.14h-4.1M61 543.06h-4.1M61 537.98h-4.1" stroke="#000" stroke-width="0.75" fill="none"/>
<path d="M400.04 629.42h5M400.04 624.34h5M400.04 619.26h5M400.04 609.1h5M400.04 604.02h5M400.04 598.94h5M400.04 588.78h5M400.04 583.7h5M400.04 578.62h5M400.04 568.46h5M400.04 563.38h5M400.04 558.3h5M400.04 548.14h5M400.04 543.06h5M400.04 537.98h5" stroke="#000" stroke-width="1.1" fill="none"/>
<path d="M74.04 532.9v-4M74.04 634.5v4.5M87.08 532.9v-4M87.08 634.5v4.5M100.12 532.9v-4M100.12 634.5v4.5M113.16 532.9v-4M113.16 634.5v4.5M139.24 532.9v-4M139.24 634.5v4.5M152.28 532.9v-4M152.28 634.5v4.5M165.32 532.9v-4M165.32 634.5v4.5M178.36 532.9v-4M178.36 634.5v4.5M204.44 532.9v-4M204.44 634.5v4.5M217.48 532.9v-4M217.48 634.5v4.5M230.52 532.9v-4M230.52 634.5v4.5M243.56 532.9v-4M243.56 634.5v4.5M269.64 532.9v-4M269.64 634.5v4.5M282.68 532.9v-4M282.68 634.5v4.5M295.72 532.9v-4M295.72 634.5v4.5M308.76 532.9v-4M308.76 634.5v4.5M334.84 532.9v-4M334.84 634.5v4.5M347.88 532.9v-4M347.88 634.5v4.5M360.92 532.9v-4M360.92 634.5v4.5M373.96 532.9v-4M373.96 634.5v4.5M400.04 532.9v-4M400.04 634.5v4.5" stroke="#000" stroke-width="0.75" fill="none"/>
<path d="M61 532.9v-8.2M61 634.5v8.2M126.2 532.9v-8.2M126.2 634.5v8.2M191.4 532.9v-8.2M191.4 634.5v8.2M256.6 532.9v-8.2M256.6 634.5v8.2M321.8 532.9v-8.2M321.8 634.5v8.2M387 532.9v-8.2M387 634.5v8.2M61 634.5h-8.2M400.04 634.5h8.2M61 614.18h-8.2M400.04 614.18h8.2M61 593.86h-8.2M400.04 593.86h8.2M61 573.54h-8.2M400.04 573.54h8.2M61 553.22h-8.2M400.04 553.22h8.2M61 532.9h-8.2M400.04 532.9h8.2" stroke="#000" stroke-width="1.7" fill="none"/>
<rect x="61" y="532.9" width="339.04" height="101.6" fill="none" stroke="#000" stroke-width="1.7"/>
<g font-size="10" text-anchor="end">
<text x="46.2" y="638.05">0</text>
<text x="46.2" y="617.73">20</text>
<text x="46.2" y="597.41">40</text>
<text x="46.2" y="577.09">60</text>
<text x="46.2" y="556.77">80</text>
<text x="46.2" y="536.45">100</text>
</g>
<g font-size="10" text-anchor="middle">
<text x="61.3" y="656.5">0</text>
<text x="126.5" y="656.5">10</text>
<text x="191.7" y="656.5">20</text>
<text x="256.9" y="656.5">30</text>
<text x="322.1" y="656.5">40</text>
<text x="387.3" y="656.5">50</text>
</g>
</g>
<g>
<text x="609.32" y="516.05" font-size="11.6" text-anchor="middle">Center height 8000 m</text>
<path d="M443.82 634.5v-1.82h5.7v1.82zM450.34 634.5v-4.46h5.7v4.46zM456.86 634.5v-9.34h5.7v9.34zM463.38 634.5v-9.34h5.7v9.34zM469.9 634.5v-13.81h5.7v13.81zM476.42 634.5v-13.81h5.7v13.81zM482.94 634.5v-13.81h5.7v13.81zM489.46 634.5v-18.18h5.7v18.18zM495.98 634.5v-18.69h5.7v18.69zM502.5 634.5v-27.73h5.7v27.73zM509.02 634.5v-25.7h5.7v25.7zM515.54 634.5v-28.85h5.7v28.85zM522.06 634.5v-27.73h5.7v27.73zM528.58 634.5v-30.57h5.7v30.57zM535.1 634.5v-42.56h5.7v42.56zM541.62 634.5v-47.03h5.7v47.03zM548.14 634.5v-60.95h5.7v60.95zM554.66 634.5v-65.12h5.7v65.12zM561.18 634.5v-81.98h5.7v81.98zM567.7 634.5v-72.64h5.7v72.64zM574.22 634.5v-72.64h5.7v72.64zM580.74 634.5v-80.15h5.7v80.15zM587.26 634.5v-72.64h5.7v72.64zM593.78 634.5v-101.6h5.7v101.6zM600.3 634.5v-80.15h5.7v80.15zM606.82 634.5v-86.35h5.7v86.35zM613.34 634.5v-73.14h5.7v73.14zM619.86 634.5v-57.19h5.7v57.19zM626.38 634.5v-56.08h5.7v56.08zM632.9 634.5v-57.6h5.7v57.6zM639.42 634.5v-54.75h5.7v54.75zM645.94 634.5v-51.6h5.7v51.6zM652.46 634.5v-30.57h5.7v30.57zM658.98 634.5v-36.57h5.7v36.57zM665.5 634.5v-31.69h5.7v31.69zM672.02 634.5v-28.85h5.7v28.85zM678.54 634.5v-27.02h5.7v27.02zM685.06 634.5v-22.65h5.7v22.65zM691.58 634.5v-33.22h5.7v33.22zM698.1 634.5v-18.38h5.7v18.38zM704.62 634.5v-25.7h5.7v25.7zM711.14 634.5v-19.5h5.7v19.5zM717.66 634.5v-16.86h5.7v16.86zM724.18 634.5v-18.18h5.7v18.18zM730.7 634.5v-15.54h5.7v15.54zM737.22 634.5v-13.81h5.7v13.81zM743.74 634.5v-16.04h5.7v16.04zM750.26 634.5v-7.61h5.7v7.61zM756.78 634.5v-6.29h5.7v6.29zM763.3 634.5v-7.61h5.7v7.61zM769.82 634.5v-7.61h5.7v7.61z" fill="#00bfff"/>
<path d="M440.3 630.27h-5M440.3 626.03h-5M440.3 621.8h-5M440.3 613.33h-5M440.3 609.1h-5M440.3 604.87h-5M440.3 596.4h-5M440.3 592.17h-5M440.3 587.93h-5M440.3 579.47h-5M440.3 575.23h-5M440.3 571h-5M440.3 562.53h-5M440.3 558.3h-5M440.3 554.07h-5M440.3 545.6h-5M440.3 541.37h-5M440.3 537.13h-5" stroke="#000" stroke-width="1.1" fill="none"/>
<path d="M779.34 630.27h5M779.34 626.03h5M779.34 621.8h5M779.34 613.33h5M779.34 609.1h5M779.34 604.87h5M779.34 596.4h5M779.34 592.17h5M779.34 587.93h5M779.34 579.47h5M779.34 575.23h5M779.34 571h5M779.34 562.53h5M779.34 558.3h5M779.34 554.07h5M779.34 545.6h5M779.34 541.37h5M779.34 537.13h5" stroke="#000" stroke-width="1.0" fill="none"/>
<path d="M453.34 532.9v-3.2M453.34 634.5v3.7M466.38 532.9v-3.2M466.38 634.5v3.7M479.42 532.9v-3.2M479.42 634.5v3.7M492.46 532.9v-3.2M492.46 634.5v3.7M518.54 532.9v-3.2M518.54 634.5v3.7M531.58 532.9v-3.2M531.58 634.5v3.7M544.62 532.9v-3.2M544.62 634.5v3.7M557.66 532.9v-3.2M557.66 634.5v3.7M583.74 532.9v-3.2M583.74 634.5v3.7M596.78 532.9v-3.2M596.78 634.5v3.7M609.82 532.9v-3.2M609.82 634.5v3.7M622.86 532.9v-3.2M622.86 634.5v3.7M648.94 532.9v-3.2M648.94 634.5v3.7M661.98 532.9v-3.2M661.98 634.5v3.7M675.02 532.9v-3.2M675.02 634.5v3.7M688.06 532.9v-3.2M688.06 634.5v3.7M714.14 532.9v-3.2M714.14 634.5v3.7M727.18 532.9v-3.2M727.18 634.5v3.7M740.22 532.9v-3.2M740.22 634.5v3.7M753.26 532.9v-3.2M753.26 634.5v3.7M779.34 532.9v-3.2M779.34 634.5v3.7" stroke="#444" stroke-width="0.7" fill="none"/>
<path d="M440.3 532.9v-8.2M440.3 634.5v8.2M505.5 532.9v-8.2M505.5 634.5v8.2M570.7 532.9v-8.2M570.7 634.5v8.2M635.9 532.9v-8.2M635.9 634.5v8.2M701.1 532.9v-8.2M701.1 634.5v8.2M766.3 532.9v-8.2M766.3 634.5v8.2M440.3 634.5h-8.2M779.34 634.5h8.2M440.3 617.57h-8.2M779.34 617.57h8.2M440.3 600.63h-8.2M779.34 600.63h8.2M440.3 583.7h-8.2M779.34 583.7h8.2M440.3 566.77h-8.2M779.34 566.77h8.2M440.3 549.83h-8.2M779.34 549.83h8.2M440.3 532.9h-8.2M779.34 532.9h8.2" stroke="#000" stroke-width="1.7" fill="none"/>
<rect x="440.3" y="532.9" width="339.04" height="101.6" fill="none" stroke="#000" stroke-width="1.7"/>
<g font-size="10" text-anchor="end">
<text x="425.5" y="638.05">0</text>
<text x="425.5" y="621.12">20</text>
<text x="425.5" y="604.18">40</text>
<text x="425.5" y="587.25">60</text>
<text x="425.5" y="570.32">80</text>
<text x="425.5" y="553.38">100</text>
<text x="425.5" y="536.45">120</text>
</g>
<g font-size="10" text-anchor="middle">
<text x="440.6" y="656.5">0</text>
<text x="505.8" y="656.5">10</text>
<text x="571" y="656.5">20</text>
<text x="636.2" y="656.5">30</text>
<text x="701.4" y="656.5">40</text>
<text x="766.6" y="656.5">50</text>
</g>
</g>
<g>
<text x="231.02" y="668.4" font-size="11.6" text-anchor="middle">Center height 9000 m</text>
<path d="M77.56 786.85v-0.91h5.7v0.91zM110.16 786.85v-0.91h5.7v0.91zM123.2 786.85v-1.52h5.7v1.52zM129.72 786.85v-4.26h5.7v4.26zM136.24 786.85v-4.26h5.7v4.26zM142.76 786.85v-5.99h5.7v5.99zM149.28 786.85v-9.14h5.7v9.14zM155.8 786.85v-15.13h5.7v15.13zM162.32 786.85v-13.61h5.7v13.61zM168.84 786.85v-19.5h5.7v19.5zM175.36 786.85v-31.89h5.7v31.89zM181.88 786.85v-45.61h5.7v45.61zM188.4 786.85v-45.2h5.7v45.2zM194.92 786.85v-67.96h5.7v67.96zM201.44 786.85v-81.78h5.7v81.78zM207.96 786.85v-92.14h5.7v92.14zM214.48 786.85v-88.99h5.7v88.99zM221 786.85v-90.82h5.7v90.82zM227.52 786.85v-100.98h5.7v100.98zM234.04 786.85v-83.3h5.7v83.3zM240.56 786.85v-67.96h5.7v67.96zM247.08 786.85v-60.24h5.7v60.24zM253.6 786.85v-52.93h5.7v52.93zM260.12 786.85v-34.64h5.7v34.64zM266.64 786.85v-33.01h5.7v33.01zM273.16 786.85v-19.8h5.7v19.8zM279.68 786.85v-16.86h5.7v16.86zM286.2 786.85v-8.73h5.7v8.73zM292.72 786.85v-8.73h5.7v8.73zM299.24 786.85v-4.26h5.7v4.26zM305.76 786.85v-6.9h5.7v6.9zM312.28 786.85v-2.74h5.7v2.74zM318.8 786.85v-1.41h5.7v1.41zM325.32 786.85v-2.94h5.7v2.94zM331.84 786.85v-2.94h5.7v2.94zM338.36 786.85v-1.62h5.7v1.62zM344.88 786.85v-1.62h5.7v1.62zM351.4 786.85v-1.62h5.7v1.62zM357.92 786.85v-2.94h5.7v2.94zM364.44 786.85v-1.21h5.7v1.21zM370.96 786.85v-0.91h5.7v0.91zM377.48 786.85v-2.94h5.7v2.94zM384 786.85v-1.62h5.7v1.62zM390.52 786.85v-1.21h5.7v1.21z" fill="#00bfff"/>
<path d="M61 782.62h-4.1M61 778.38h-4.1M61 774.15h-4.1M61 765.68h-4.1M61 761.45h-4.1M61 757.22h-4.1M61 748.75h-4.1M61 744.52h-4.1M61 740.28h-4.1M61 731.82h-4.1M61 727.58h-4.1M61 723.35h-4.1M61 714.88h-4.1M61 710.65h-4.1M61 706.42h-4.1M61 697.95h-4.1M61 693.72h-4.1M61 689.48h-4.1" stroke="#000" stroke-width="0.75" fill="none"/>
<path d="M400.04 782.62h5M400.04 778.38h5M400.04 774.15h5M400.04 765.68h5M400.04 761.45h5M400.04 757.22h5M400.04 748.75h5M400.04 744.52h5M400.04 740.28h5M400.04 731.82h5M400.04 727.58h5M400.04 723.35h5M400.04 714.88h5M400.04 710.65h5M400.04 706.42h5M400.04 697.95h5M400.04 693.72h5M400.04 689.48h5" stroke="#000" stroke-width="1.1" fill="none"/>
<path d="M74.04 685.25v-4M74.04 786.85v4.5M87.08 685.25v-4M87.08 786.85v4.5M100.12 685.25v-4M100.12 786.85v4.5M113.16 685.25v-4M113.16 786.85v4.5M139.24 685.25v-4M139.24 786.85v4.5M152.28 685.25v-4M152.28 786.85v4.5M165.32 685.25v-4M165.32 786.85v4.5M178.36 685.25v-4M178.36 786.85v4.5M204.44 685.25v-4M204.44 786.85v4.5M217.48 685.25v-4M217.48 786.85v4.5M230.52 685.25v-4M230.52 786.85v4.5M243.56 685.25v-4M243.56 786.85v4.5M269.64 685.25v-4M269.64 786.85v4.5M282.68 685.25v-4M282.68 786.85v4.5M295.72 685.25v-4M295.72 786.85v4.5M308.76 685.25v-4M308.76 786.85v4.5M334.84 685.25v-4M334.84 786.85v4.5M347.88 685.25v-4M347.88 786.85v4.5M360.92 685.25v-4M360.92 786.85v4.5M373.96 685.25v-4M373.96 786.85v4.5M400.04 685.25v-4M400.04 786.85v4.5" stroke="#000" stroke-width="0.75" fill="none"/>
<path d="M61 685.25v-8.2M61 786.85v8.2M126.2 685.25v-8.2M126.2 786.85v8.2M191.4 685.25v-8.2M191.4 786.85v8.2M256.6 685.25v-8.2M256.6 786.85v8.2M321.8 685.25v-8.2M321.8 786.85v8.2M387 685.25v-8.2M387 786.85v8.2M61 786.85h-8.2M400.04 786.85h8.2M61 769.92h-8.2M400.04 769.92h8.2M61 752.98h-8.2M400.04 752.98h8.2M61 736.05h-8.2M400.04 736.05h8.2M61 719.12h-8.2M400.04 719.12h8.2M61 702.18h-8.2M400.04 702.18h8.2M61 685.25h-8.2M400.04 685.25h8.2" stroke="#000" stroke-width="1.7" fill="none"/>
<rect x="61" y="685.25" width="339.04" height="101.6" fill="none" stroke="#000" stroke-width="1.7"/>
<g font-size="10" text-anchor="end">
<text x="46.2" y="790.4">0</text>
<text x="46.2" y="773.47">40</text>
<text x="46.2" y="756.53">80</text>
<text x="46.2" y="739.6">120</text>
<text x="46.2" y="722.67">160</text>
<text x="46.2" y="705.73">200</text>
<text x="46.2" y="688.8">240</text>
</g>
<g font-size="10" text-anchor="middle">
<text x="61.3" y="808.85">0</text>
<text x="126.5" y="808.85">10</text>
<text x="191.7" y="808.85">20</text>
<text x="256.9" y="808.85">30</text>
<text x="322.1" y="808.85">40</text>
<text x="387.3" y="808.85">50</text>
</g>
</g>
<g>
<text x="609.32" y="668.4" font-size="11.6" text-anchor="middle">Center height 10000 m</text>
<path d="M528.58 786.85v-0.91h5.7v0.91zM535.1 786.85v-1.41h5.7v1.41zM541.62 786.85v-4.26h5.7v4.26zM548.14 786.85v-5.78h5.7v5.78zM554.66 786.85v-11.98h5.7v11.98zM561.18 786.85v-14.93h5.7v14.93zM567.7 786.85v-27.02h5.7v27.02zM574.22 786.85v-41.85h5.7v41.85zM580.74 786.85v-66.64h5.7v66.64zM587.26 786.85v-67.96h5.7v67.96zM593.78 786.85v-90.62h5.7v90.62zM600.3 786.85v-97.93h5.7v97.93zM606.82 786.85v-88.99h5.7v88.99zM613.34 786.85v-93.46h5.7v93.46zM619.86 786.85v-88.99h5.7v88.99zM626.38 786.85v-74.46h5.7v74.46zM632.9 786.85v-50.79h5.7v50.79zM639.42 786.85v-40.84h5.7v40.84zM645.94 786.85v-27.02h5.7v27.02zM652.46 786.85v-19.8h5.7v19.8zM658.98 786.85v-10.46h5.7v10.46zM665.5 786.85v-7.61h5.7v7.61zM672.02 786.85v-2.74h5.7v2.74zM678.54 786.85v-2.74h5.7v2.74zM685.06 786.85v-1.41h5.7v1.41zM691.58 786.85v-1.11h5.7v1.11zM698.1 786.85v-1.11h5.7v1.11zM704.62 786.85v-1.11h5.7v1.11zM711.14 786.85v-1.01h5.7v1.01zM756.78 786.85v-1.01h5.7v1.01z" fill="#00bfff"/>
<path d="M440.3 781.77h-5M440.3 776.69h-5M440.3 771.61h-5M440.3 766.53h-5M440.3 756.37h-5M440.3 751.29h-5M440.3 746.21h-5M440.3 741.13h-5M440.3 730.97h-5M440.3 725.89h-5M440.3 720.81h-5M440.3 715.73h-5M440.3 705.57h-5M440.3 700.49h-5M440.3 695.41h-5M440.3 690.33h-5" stroke="#000" stroke-width="1.1" fill="none"/>
<path d="M779.34 781.77h5M779.34 776.69h5M779.34 771.61h5M779.34 766.53h5M779.34 756.37h5M779.34 751.29h5M779.34 746.21h5M779.34 741.13h5M779.34 730.97h5M779.34 725.89h5M779.34 720.81h5M779.34 715.73h5M779.34 705.57h5M779.34 700.49h5M779.34 695.41h5M779.34 690.33h5" stroke="#000" stroke-width="1.0" fill="none"/>
<path d="M453.34 685.25v-3.2M453.34 786.85v3.7M466.38 685.25v-3.2M466.38 786.85v3.7M479.42 685.25v-3.2M479.42 786.85v3.7M492.46 685.25v-3.2M492.46 786.85v3.7M518.54 685.25v-3.2M518.54 786.85v3.7M531.58 685.25v-3.2M531.58 786.85v3.7M544.62 685.25v-3.2M544.62 786.85v3.7M557.66 685.25v-3.2M557.66 786.85v3.7M583.74 685.25v-3.2M583.74 786.85v3.7M596.78 685.25v-3.2M596.78 786.85v3.7M609.82 685.25v-3.2M609.82 786.85v3.7M622.86 685.25v-3.2M622.86 786.85v3.7M648.94 685.25v-3.2M648.94 786.85v3.7M661.98 685.25v-3.2M661.98 786.85v3.7M675.02 685.25v-3.2M675.02 786.85v3.7M688.06 685.25v-3.2M688.06 786.85v3.7M714.14 685.25v-3.2M714.14 786.85v3.7M727.18 685.25v-3.2M727.18 786.85v3.7M740.22 685.25v-3.2M740.22 786.85v3.7M753.26 685.25v-3.2M753.26 786.85v3.7M779.34 685.25v-3.2M779.34 786.85v3.7" stroke="#444" stroke-width="0.7" fill="none"/>
<path d="M440.3 685.25v-8.2M440.3 786.85v8.2M505.5 685.25v-8.2M505.5 786.85v8.2M570.7 685.25v-8.2M570.7 786.85v8.2M635.9 685.25v-8.2M635.9 786.85v8.2M701.1 685.25v-8.2M701.1 786.85v8.2M766.3 685.25v-8.2M766.3 786.85v8.2M440.3 786.85h-8.2M779.34 786.85h8.2M440.3 761.45h-8.2M779.34 761.45h8.2M440.3 736.05h-8.2M779.34 736.05h8.2M440.3 710.65h-8.2M779.34 710.65h8.2M440.3 685.25h-8.2M779.34 685.25h8.2" stroke="#000" stroke-width="1.7" fill="none"/>
<rect x="440.3" y="685.25" width="339.04" height="101.6" fill="none" stroke="#000" stroke-width="1.7"/>
<g font-size="10" text-anchor="end">
<text x="425.5" y="790.4">0</text>
<text x="425.5" y="765">100</text>
<text x="425.5" y="739.6">200</text>
<text x="425.5" y="714.2">300</text>
<text x="425.5" y="688.8">400</text>
</g>
<g font-size="10" text-anchor="middle">
<text x="440.6" y="808.85">0</text>
<text x="505.8" y="808.85">10</text>
<text x="571" y="808.85">20</text>
<text x="636.2" y="808.85">30</text>
<text x="701.4" y="808.85">40</text>
<text x="766.6" y="808.85">50</text>
</g>
</g>
</svg></body></html>
